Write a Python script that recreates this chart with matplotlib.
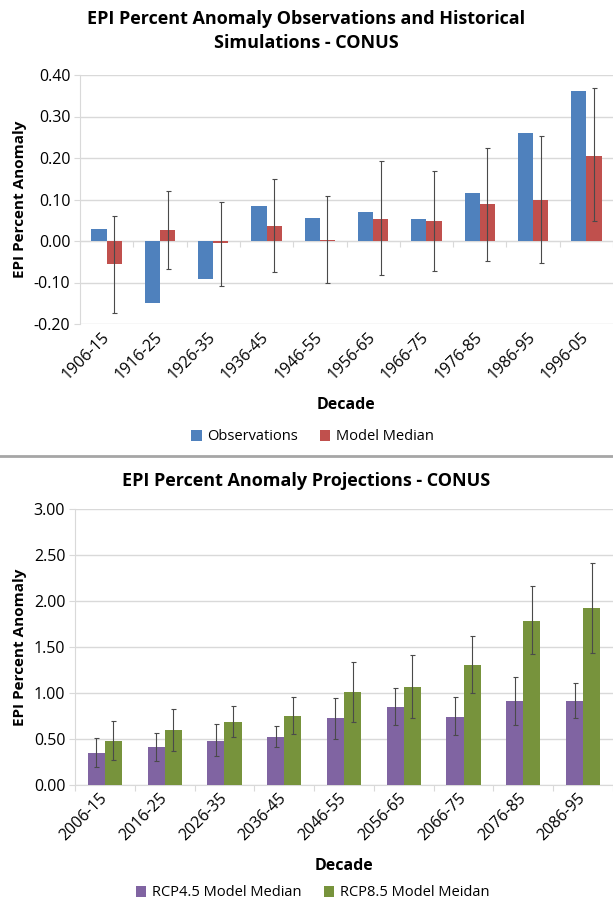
#!/usr/bin/env python3

import matplotlib
matplotlib.use('Agg')
import matplotlib.pyplot as plt
from matplotlib.lines import Line2D
from matplotlib.ticker import FormatStrFormatter
import numpy as np

plt.rcParams['font.family'] = ['Open Sans', 'DejaVu Sans']
plt.rcParams['axes.unicode_minus'] = False

# historical decades
hist_decades = ['1906-15', '1916-25', '1926-35', '1936-45', '1946-55',
                '1956-65', '1966-75', '1976-85', '1986-95', '1996-05']
observations = [0.028, -0.149, -0.092, 0.084, 0.056, 0.069, 0.052, 0.115, 0.261, 0.362]
model_median = [-0.055, 0.026, -0.005, 0.036, 0.003, 0.053, 0.047, 0.088, 0.100, 0.206]
model_hi = [0.061, 0.120, 0.094, 0.149, 0.108, 0.193, 0.168, 0.224, 0.254, 0.368]
model_lo = [-0.174, -0.068, -0.108, -0.074, -0.100, -0.083, -0.072, -0.047, -0.053, 0.047]

# projection decades
proj_decades = ['2006-15', '2016-25', '2026-35', '2036-45', '2046-55',
                '2056-65', '2066-75', '2076-85', '2086-95']
rcp45 = [0.35, 0.41, 0.48, 0.52, 0.725, 0.845, 0.74, 0.91, 0.91]
rcp45_hi = [0.51, 0.56, 0.66, 0.645, 0.945, 1.05, 0.955, 1.175, 1.105]
rcp45_lo = [0.20, 0.26, 0.31, 0.41, 0.505, 0.655, 0.54, 0.65, 0.725]
rcp85 = [0.48, 0.60, 0.69, 0.745, 1.01, 1.07, 1.305, 1.785, 1.925]
rcp85_hi = [0.70, 0.83, 0.855, 0.96, 1.335, 1.415, 1.62, 2.16, 2.41]
rcp85_lo = [0.27, 0.37, 0.525, 0.555, 0.69, 0.73, 1.00, 1.42, 1.44]

BLUE = '#4F81BD'
RED = '#C0504D'
PURPLE = '#8064A2'
GREEN = '#77933C'
GRID = '#d9d9d9'
ERR = '#4a4a4a'
BW = 0.286

W, H = 613, 908
fig = plt.figure(figsize=(W / 100, H / 100), dpi=100)


def errbars(ax, xs, vals, lo, hi):
    v = np.array(vals)
    ax.errorbar(xs, vals, yerr=[v - np.array(lo), np.array(hi) - v], fmt='none',
                ecolor=ERR, elinewidth=0.8, capsize=1.8, capthick=0.8)


def setup(ax, cats, ylim, step):
    n = len(cats)
    x = np.arange(n)
    ax.set_xlim(-0.5, n - 0.5)
    ax.set_xticks(x)
    ax.set_xticklabels(cats, rotation=45, ha='right', va='center',
                       rotation_mode='anchor')
    ax.set_ylim(*ylim)
    ax.set_yticks(np.arange(ylim[0], ylim[1] + step / 2, step))
    ax.yaxis.set_major_formatter(FormatStrFormatter('%.2f'))
    ax.grid(axis='y', color=GRID, linewidth=1)
    ax.set_axisbelow(True)
    for s in ['top', 'right', 'bottom']:
        ax.spines[s].set_visible(False)
    ax.spines['left'].set_color(GRID)
    ax.tick_params(axis='y', length=4, color=GRID, labelsize=11.5, pad=3)
    ax.tick_params(axis='x', length=0, labelsize=11.5, pad=8)
    ax.set_ylabel('EPI Percent Anomaly', fontsize=11, fontweight='bold', labelpad=5)
    ax.set_xlabel('Decade', fontsize=11.5, fontweight='bold', labelpad=10)
    # category boundary ticks on the zero line
    zero = (0 - ylim[0]) / (ylim[1] - ylim[0])
    sec = ax.secondary_xaxis(zero)
    sec.set_xticks(np.arange(-0.5, n, 1.0))
    sec.set_xticklabels([])
    sec.tick_params(length=4, color=GRID, direction='out')
    sec.spines['bottom'].set_color(GRID)
    return x


# top chart
ax1 = fig.add_axes([80 / W, 1 - 324 / H, 533 / W, 249 / H])
x1 = setup(ax1, hist_decades, (-0.20, 0.40), 0.10)
b1 = ax1.bar(x1 - BW / 2, observations, BW, color=BLUE)
b2 = ax1.bar(x1 + BW / 2, model_median, BW, color=RED)
errbars(ax1, x1 + BW / 2, model_median, model_lo, model_hi)
fig.text(0.5, 1 - 31 / H, 'EPI Percent Anomaly Observations and Historical\nSimulations - CONUS',
         ha='center', va='center', fontsize=13, fontweight='bold', linespacing=1.45)
fig.legend([b1, b2], ['Observations', 'Model Median'], loc='center',
           bbox_to_anchor=(0.51, 1 - 437 / H), ncol=2, frameon=False,
           fontsize=10.5, handlelength=0.7, handleheight=0.7, columnspacing=1.5,
           handletextpad=0.4)

# separator
fig.add_artist(Line2D([0, 1], [1 - 456 / H, 1 - 456 / H], transform=fig.transFigure,
                      color='#a6a6a6', linewidth=2))

# bottom chart
ax2 = fig.add_axes([75 / W, 1 - 785 / H, 538 / W, 276 / H])
x2 = setup(ax2, proj_decades, (0.0, 3.0), 0.50)
b3 = ax2.bar(x2 - BW / 2, rcp45, BW, color=PURPLE)
b4 = ax2.bar(x2 + BW / 2, rcp85, BW, color=GREEN)
errbars(ax2, x2 - BW / 2, rcp45, rcp45_lo, rcp45_hi)
errbars(ax2, x2 + BW / 2, rcp85, rcp85_lo, rcp85_hi)
fig.text(0.5, 1 - 481 / H, 'EPI Percent Anomaly Projections - CONUS',
         ha='center', va='center', fontsize=13, fontweight='bold')
fig.legend([b3, b4], ['RCP4.5 Model Median', 'RCP8.5 Model Meidan'], loc='center',
           bbox_to_anchor=(0.51, 1 - 893 / H), ncol=2, frameon=False,
           fontsize=10.5, handlelength=0.7, handleheight=0.7, columnspacing=1.5,
           handletextpad=0.4)

fig.savefig('out.png', dpi=100)
